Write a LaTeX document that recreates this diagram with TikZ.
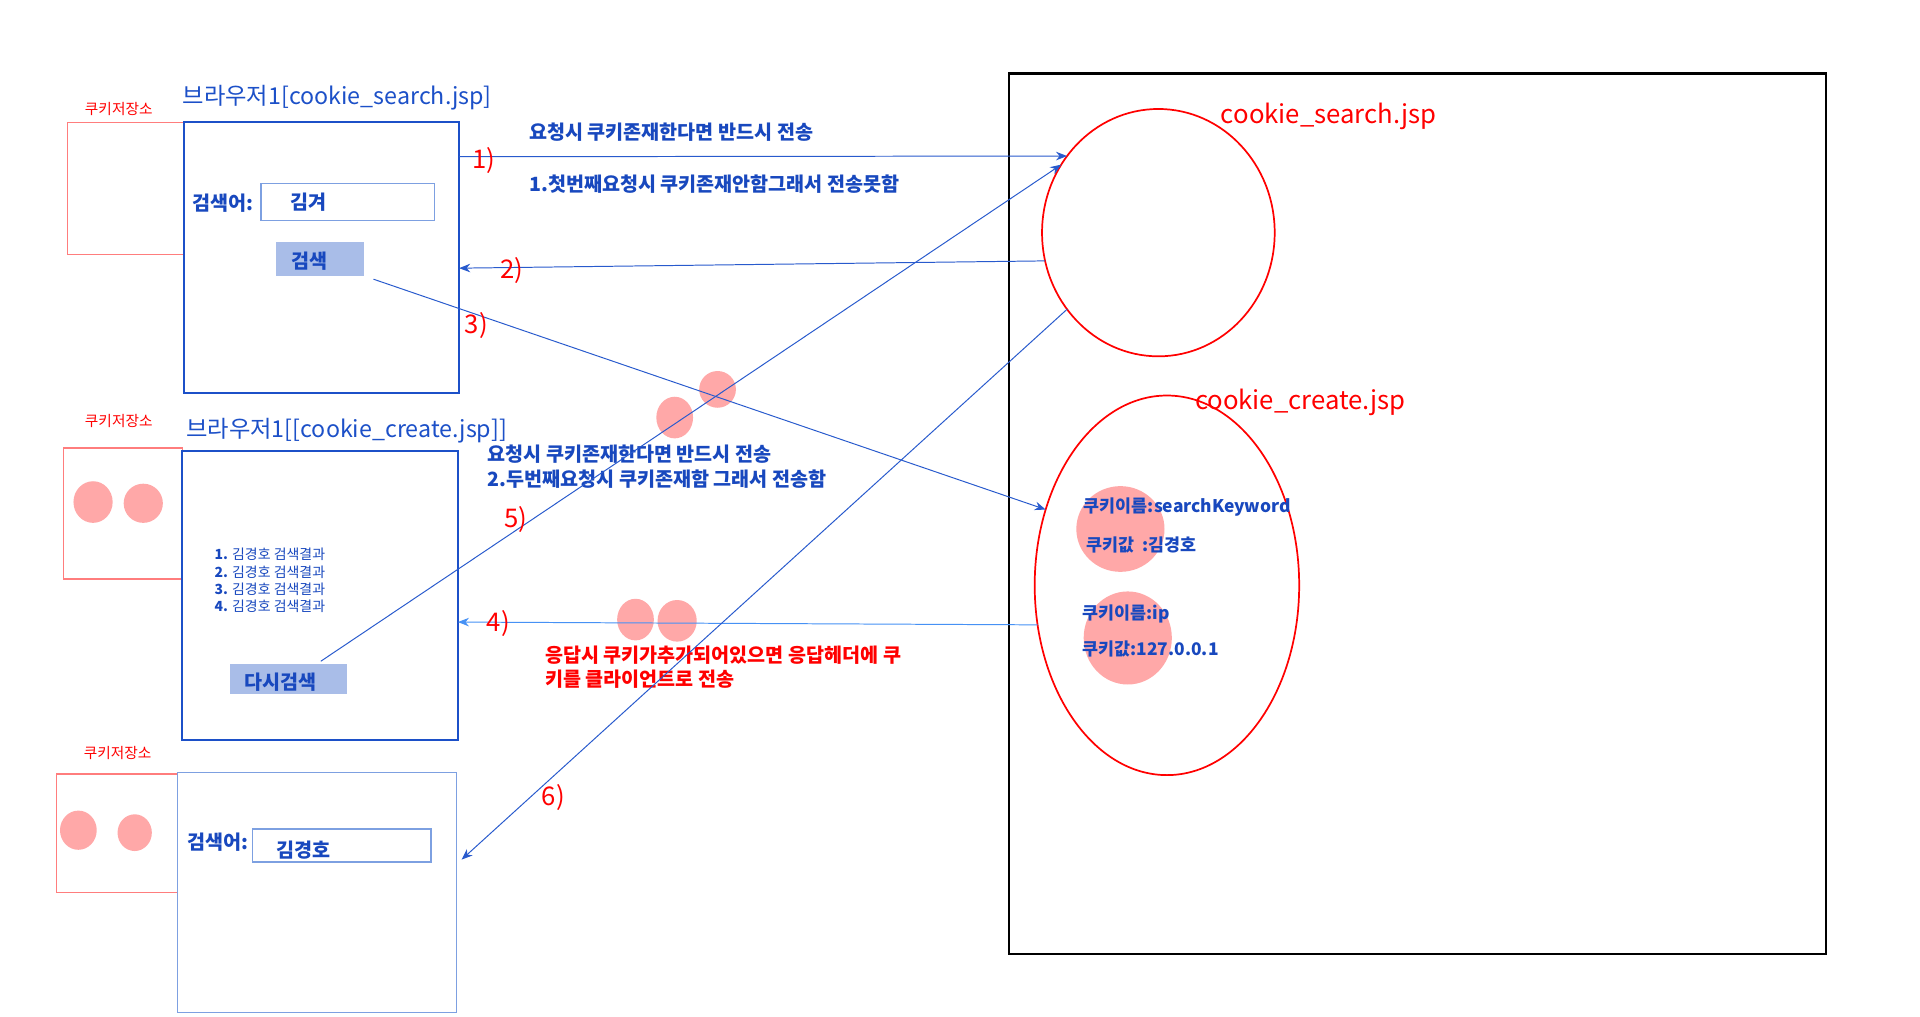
\documentclass[tikz,border=0pt]{standalone}
\usepackage{fontspec}
\setmainfont{Noto Sans CJK KR}
\usetikzlibrary{arrows.meta,shapes.geometric}
\definecolor{dblue}{RGB}{28,80,200}
\definecolor{tblue}{RGB}{24,72,190}
\definecolor{lblue}{RGB}{125,160,225}
\definecolor{btnfill}{RGB}{169,189,232}
\definecolor{pinkdot}{RGB}{255,168,168}
\definecolor{lred}{RGB}{255,125,125}
\definecolor{aline}{RGB}{40,90,205}
\definecolor{afour}{RGB}{70,145,245}
\newcommand\fsz[1]{\fontsize{#1}{#1}\selectfont}
\begin{document}
\begin{tikzpicture}[x=1pt,y=-1pt,
  box/.style={draw=dblue,line width=1.6pt,inner sep=0,outer sep=0,anchor=north west},
  lbox/.style={draw=lblue,line width=1.2pt,inner sep=0,outer sep=0,anchor=north west},
  store/.style={draw=lred,line width=1.2pt,inner sep=0,outer sep=0,anchor=north west},
  btnbox/.style={fill=btnfill,draw=none,inner sep=0,outer sep=0,anchor=north west},
  dot/.style={ellipse,fill=pinkdot,draw=none,inner sep=0},
  oval/.style={ellipse,draw=red,line width=1.4pt,inner sep=0,outer sep=0},
  title/.style={text=dblue,font=\fsz{19},anchor=west,inner sep=0},
  storelbl/.style={text=red,font=\fsz{12},inner sep=0},
  btxt/.style={text=tblue,font=\fsz{16}\bfseries,anchor=west,inner sep=0},
  ktxt/.style={text=tblue,font=\fsz{14.2}\bfseries,anchor=west,inner sep=0},
  ctxt/.style={text=tblue,font=\fsz{16}\bfseries,inner sep=0},
  rtxt/.style={text=red,font=\fsz{16}\bfseries,anchor=west,inner sep=0},
  num/.style={text=red,font=\fsz{21},inner sep=0},
  jsp/.style={text=red,font=\fsz{21},inner sep=0},
  listtxt/.style={text=tblue,font=\fsz{11.4},anchor=west,inner sep=0},
  conn/.style={draw=aline,line width=0.8pt},
  tip/.style={-{Stealth[length=9pt,width=7pt]}}
]
\useasboundingbox[fill=white] (0,0) rectangle (1568,830);

% ---------- browser 1 ----------
\node[title] (t1) at (149,80) {브라우저1[cookie\_search.jsp]};
\node[storelbl] (sl1) at (97,89) {쿠키저장소};
\node[store,minimum width=95pt,minimum height=108pt] (st1) at (55,100) {};
\node[box,minimum width=225pt,minimum height=221pt] (b1) at (150,100) {};
\node[btxt] (lab1) at (157,166) {검색어:};
\node[lbox,minimum width=142pt,minimum height=30pt] (in1) at (213,150) {};
\node[ctxt] (v1) at (252,165) {김겨};
\node[btnbox,minimum width=72pt,minimum height=27pt] (btn1) at (225,198) {};
\node[ctxt] (bt1) at (253,213) {검색};

% ---------- browser 2 ----------
\node[title] (t2) at (152,352) {브라우저1[[cookie\_create.jsp]]};
\node[storelbl] (sl2) at (97,344) {쿠키저장소};
\node[store,minimum width=97pt,minimum height=107pt] (st2) at (52,366) {};
\node[box,minimum width=225pt,minimum height=236pt] (b2) at (149,368) {};
\node[dot,minimum width=32pt,minimum height=34pt] (d21) at (76,410) {};
\node[dot,minimum width=32pt,minimum height=32pt] (d22) at (117,411) {};
\node[listtxt] (li1) at (175,453) {{\bfseries 1.} 김경호 검색결과};
\node[listtxt] (li2) at (175,467) {{\bfseries 2.} 김경호 검색결과};
\node[listtxt] (li3) at (175,481) {{\bfseries 3.} 김경호 검색결과};
\node[listtxt] (li4) at (175,495) {{\bfseries 4.} 김경호 검색결과};
\node[btnbox,minimum width=95pt,minimum height=25pt] (btn2) at (188,542) {};
\node[ctxt] (bt2) at (229,557) {다시검색};

% ---------- browser 3 ----------
\node[storelbl] (sl3) at (96,615) {쿠키저장소};
\node[store,minimum width=99pt,minimum height=97pt] (st3) at (46,632) {};
\node[lbox,minimum width=228pt,minimum height=196pt] (b3) at (145,631) {};
\node[dot,minimum width=30pt,minimum height=32pt] (d31) at (64,678) {};
\node[dot,minimum width=28pt,minimum height=30pt] (d32) at (110,680) {};
\node[btxt] (lab3) at (153,688) {검색어:};
\node[lbox,minimum width=146pt,minimum height=27pt] (in3) at (206,677) {};
\node[ctxt] (v3) at (248,694) {김경호};

% ---------- server ----------
\node[draw=black,line width=2pt,inner sep=0,outer sep=0,anchor=north west,minimum width=667pt,minimum height=719pt] (srv) at (824,60) {};
\node[oval,minimum width=190pt,minimum height=202pt] (c1) at (946,190) {};
\node[jsp] (j1) at (1085,95) {cookie\_search.jsp};
\node[dot,minimum width=72pt,minimum height=70pt] (ckA) at (915,432) {};
\node[dot,minimum width=72pt,minimum height=76pt] (ckB) at (921,521) {};
\node[oval,minimum width=216pt,minimum height=310pt] (e2) at (953,478) {};
\node[jsp] (j2) at (1062,329) {cookie\_create.jsp};
\node[ktxt] (k1) at (885,414) {쿠키이름:searchKeyword};
\node[ktxt] (k2) at (887,445) {쿠키값\ \ :김경호};
\node[ktxt] (k3) at (884,501) {쿠키이름:ip};
\node[ktxt] (k4) at (884,530) {쿠키값:127.0.0.1};

% ---------- middle pink dots ----------
\node[dot,minimum width=30pt,minimum height=34pt] (m1) at (551,341) {};
\node[dot,minimum width=30pt,minimum height=30pt] (m2) at (586,318) {};
\node[dot,minimum width=30pt,minimum height=34pt] (m3) at (519,506) {};
\node[dot,minimum width=32pt,minimum height=34pt] (m4) at (553,507) {};

% ---------- texts ----------
\node[btxt] (r1a) at (432,108) {요청시 쿠키존재한다면 반드시 전송};
\node[btxt] (r1b) at (432,150) {1.첫번째요청시 쿠키존재안함그래서 전송못함};
\node[btxt] (r2a) at (398,371) {요청시 쿠키존재한다면 반드시 전송};
\node[btxt] (r2b) at (398,391) {2.두번째요청시 쿠키존재함 그래서 전송함};
\node[rtxt] (s1) at (445,535) {응답시 쿠키가추가되어있으면 응답헤더에 쿠};
\node[rtxt] (s2) at (445,555) {키를 클라이언트로 전송};

% ---------- connectors ----------
\draw[conn,tip] ([yshift=82.5pt]b1.east) -- (c1.140);
\draw[conn,tip] (c1.194) -- ([yshift=-8.5pt]b1.east);
\draw[conn,tip] ([xshift=8pt,yshift=-3pt]btn1.south east) -- (e2.148);
\draw[conn,draw=afour,tip] (e2.197) -- ([yshift=-22pt]b2.east);
\draw[conn,tip] ([xshift=-21pt,yshift=2pt]btn2.north east) -- (c1.145);
\draw[conn,tip] (c1.220) -- ([xshift=4pt,yshift=27pt]b3.east);

% ---------- step numbers ----------
\node[num] (n1) at (395,131) {1)};
\node[num] (n2) at (418,221) {2)};
\node[num] (n3) at (389,266) {3)};
\node[num] (n4) at (407,509) {4)};
\node[num] (n5) at (421,424) {5)};
\node[num] (n6) at (452,651) {6)};
\end{tikzpicture}
\end{document}
